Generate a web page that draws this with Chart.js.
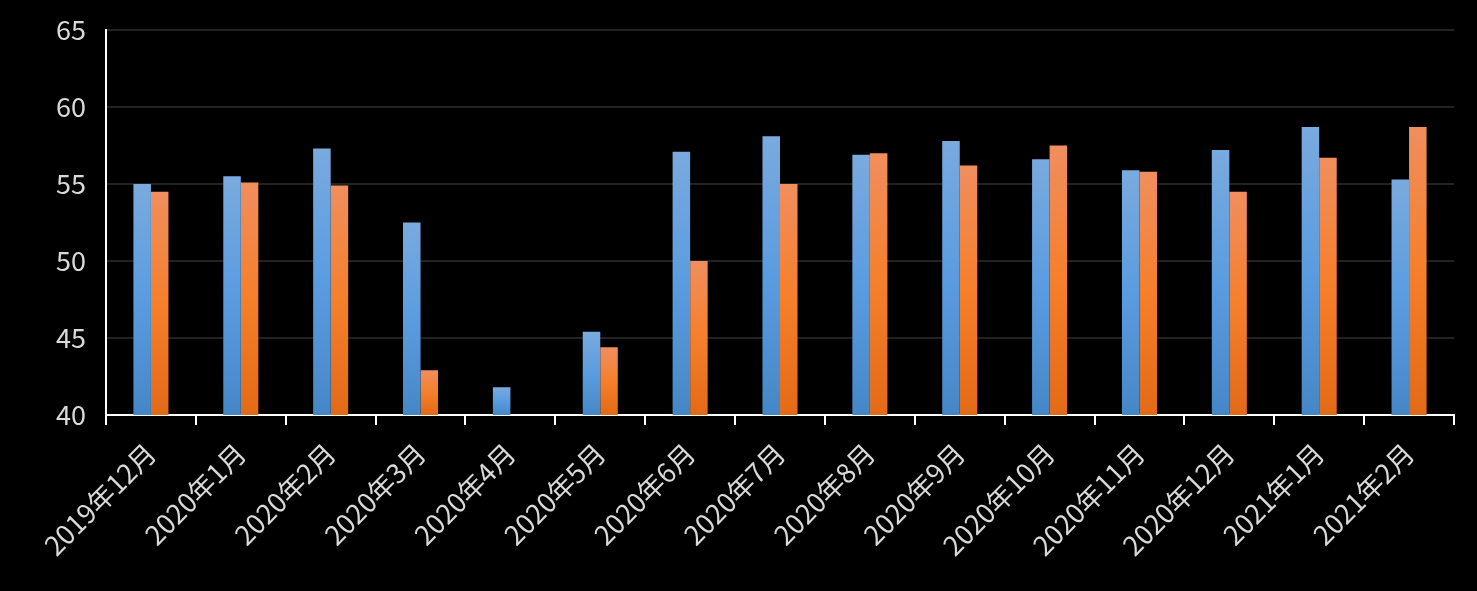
<!DOCTYPE html>
<html>
<head>
<meta charset="utf-8">
<script src="https://cdn.jsdelivr.net/npm/chart.js@4/dist/chart.umd.min.js"></script>
<style>
html,body{margin:0;padding:0;background:#000;}
#wrap{width:1477px;height:591px;position:relative;}
</style>
</head>
<body>
<div id="wrap"><canvas id="c" width="1477" height="591"></canvas></div>
<script>
const categories = ["2019年12月","2020年1月","2020年2月","2020年3月","2020年4月","2020年5月","2020年6月","2020年7月","2020年8月","2020年9月","2020年10月","2020年11月","2020年12月","2021年1月","2021年2月"];
const seriesBlue = [55.0,55.5,57.3,52.5,41.8,45.4,57.1,58.1,56.9,57.8,56.6,55.9,57.2,58.7,55.3];
const seriesOrange = [54.5,55.1,54.9,42.9,null,44.4,50.0,55.0,57.0,56.2,57.5,55.8,54.5,56.7,58.7];
const yTicks = [40,45,50,55,60,65];

function barGradient(stops){
  return function(ctx){
    const chart = ctx.chart;
    if(!chart.chartArea || !chart.scales.y || ctx.raw == null) return stops[1];
    const y = chart.scales.y;
    const top = y.getPixelForValue(ctx.raw);
    const bottom = y.getPixelForValue(y.min);
    if(!isFinite(top) || !isFinite(bottom) || bottom - top < 1) return stops[1];
    const g = chart.ctx.createLinearGradient(0, top, 0, bottom);
    g.addColorStop(0, stops[0]);
    g.addColorStop(0.5, stops[1]);
    g.addColorStop(1, stops[2]);
    return g;
  };
}

const FONT = "'Noto Sans CJK SC','Noto Sans',sans-serif";

new Chart(document.getElementById('c'), {
  type: 'bar',
  data: {
    labels: categories,
    datasets: [
      {label:'A', data: seriesBlue, backgroundColor: barGradient(['#7aaade','#5a9ce0','#4587c6']), borderWidth:0, categoryPercentage:0.39, barPercentage:1.0},
      {label:'B', data: seriesOrange, backgroundColor: barGradient(['#f08e5e','#f57f2b','#e36a16']), borderWidth:0, categoryPercentage:0.39, barPercentage:1.0}
    ]
  },
  options: {
    responsive: false,
    animation: false,
    layout: {padding: {top: 30, right: 23, left: 0, bottom: 0}},
    plugins: {legend:{display:false}, tooltip:{enabled:false}},
    scales: {
      x: {
        grid: {display:true, drawOnChartArea:false, offset:true, color:'#ffffff', lineWidth:2, tickLength:10, tickWidth:2},
        border: {display:true, color:'#ffffff', width:2},
        ticks: {color:'#d9d9d9', font:{family:FONT, size:27}, minRotation:45, maxRotation:45, autoSkip:false, padding:12},
        afterFit: function(s){ s.height = 591 - 415; s.paddingLeft = 0; s.paddingRight = 0; }
      },
      y: {
        min: 40, max: 65,
        afterBuildTicks: function(s){ s.ticks = yTicks.map(v => ({value:v})); },
        grid: {color:'#222222', lineWidth:2, drawTicks:false},
        border: {display:true, color:'#ffffff', width:2},
        ticks: {color:'#d9d9d9', font:{family:FONT, size:27}, padding:20},
        afterFit: function(s){ s.width = 106; s.paddingTop = 0; s.paddingBottom = 0; }
      }
    }
  }
});
</script>
</body>
</html>
